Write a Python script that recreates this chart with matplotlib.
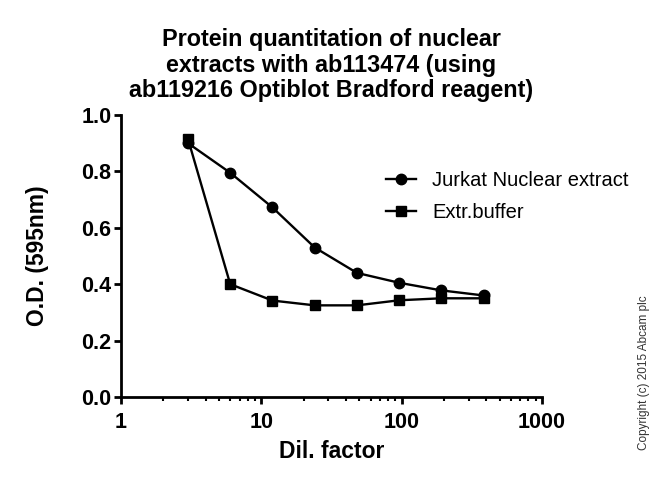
import matplotlib
matplotlib.use("Agg")
import matplotlib.pyplot as plt
from matplotlib.ticker import FixedLocator, LogLocator, NullFormatter

plt.rcParams['font.family'] = ['Liberation Sans', 'DejaVu Sans']

dil = [3, 6, 12, 24, 48, 96, 192, 384]
jurkat = [0.90, 0.795, 0.672, 0.530, 0.440, 0.405, 0.378, 0.360]
buffer = [0.915, 0.400, 0.342, 0.325, 0.325, 0.343, 0.350, 0.350]

fig = plt.figure(figsize=(6.5, 4.83), dpi=100)
ax = fig.add_axes([0.1862, 0.178, 0.6477, 0.584])

ax.plot(dil, jurkat, color="black", lw=1.7, marker="o", ms=7.5, label="Jurkat Nuclear extract")
ax.plot(dil, buffer, color="black", lw=1.7, marker="s", ms=7.5, label="Extr.buffer")

ax.set_xscale("log")
ax.set_xlim(1, 1000)
ax.set_ylim(0, 1.0)
ax.xaxis.set_major_locator(FixedLocator([1, 10, 100, 1000]))
ax.set_xticklabels(["1", "10", "100", "1000"])
ax.xaxis.set_minor_locator(LogLocator(base=10, subs=range(2, 10)))
ax.xaxis.set_minor_formatter(NullFormatter())
ax.set_yticks([0.0, 0.2, 0.4, 0.6, 0.8, 1.0])
ax.set_yticklabels(["0.0", "0.2", "0.4", "0.6", "0.8", "1.0"])

for s in ["top", "right"]:
    ax.spines[s].set_visible(False)
for s in ["left", "bottom"]:
    ax.spines[s].set_linewidth(2)
ax.tick_params(which="major", length=5, width=2, labelsize=15.5, pad=2)
ax.tick_params(which="minor", length=3, width=1.5)
ax.tick_params(axis="x", which="major", pad=6)
for lab in ax.get_xticklabels() + ax.get_yticklabels():
    lab.set_fontweight("bold")

ax.set_xlabel("Dil. factor", fontsize=16.5, fontweight="bold", labelpad=5)
ax.set_ylabel("O.D. (595nm)", fontsize=16.5, fontweight="bold", labelpad=23)
ax.set_title("Protein quantitation of nuclear\nextracts with ab113474 (using\nab119216 Optiblot Bradford reagent)",
             fontsize=16.8, fontweight="bold", pad=13, linespacing=1.13)

ax.legend(loc="upper left", bbox_to_anchor=(0.586, 0.865), frameon=False, fontsize=14.5,
          handlelength=1.5, handletextpad=0.8, labelspacing=0.65)

fig.text(0.99, 0.068, "Copyright (c) 2015 Abcam plc", rotation=90, fontsize=8.5,
         ha="center", va="bottom", color="#333333")

fig.savefig("out.png", dpi=100)
